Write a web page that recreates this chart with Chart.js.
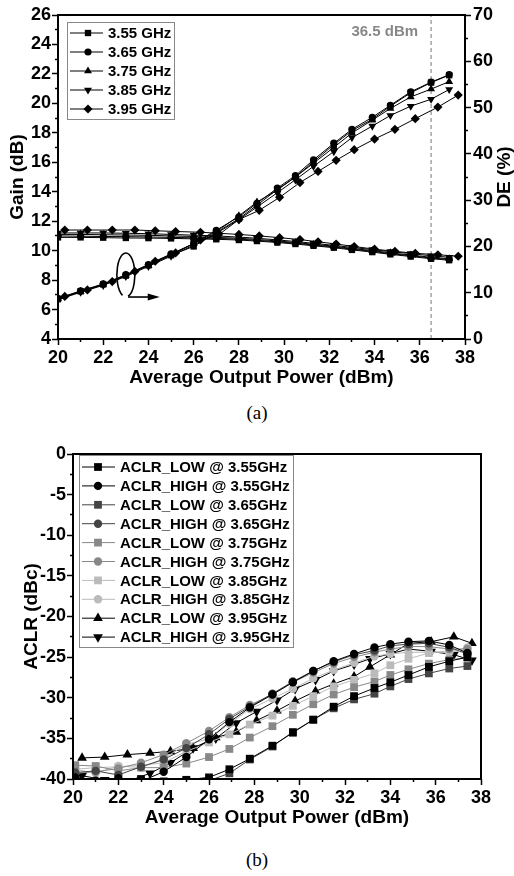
<!DOCTYPE html>
<html><head><meta charset="utf-8">
<script src="https://cdn.jsdelivr.net/npm/chart.js@4.4.0/dist/chart.umd.min.js"></script>
<style>
html,body{margin:0;padding:0;background:#fff;width:514px;height:876px;overflow:hidden;position:relative}
canvas{position:absolute;left:0}
#ca{top:0}
#cb{top:440px}
.cap{position:absolute;left:0;width:514px;text-align:center;font-family:'Liberation Serif','Times New Roman',serif;font-size:19px;line-height:20px;color:#000}
</style></head><body>
<canvas id="ca" width="514" height="395"></canvas>
<div class="cap" style="top:403px">(a)</div>
<canvas id="cb" width="514" height="395"></canvas>
<div class="cap" style="top:850px">(b)</div>
<script>
// ---------- DATA (a) ----------
const freqLabels = ['3.55 GHz','3.65 GHz','3.75 GHz','3.85 GHz','3.95 GHz'];
const powerA    = [20,21,22,23,24,25,26,27,28,28.8,29.7,30.5,31.3,32.2,33.0,33.9,34.7,35.6,36.5,37.3];
const powerA395 = [20.3,21.3,22.4,23.4,24.3,25.2,26.3,27.1,28.0,28.9,29.8,30.7,31.5,32.3,33.1,34.0,34.9,35.8,36.8,37.7];
const gain355 = [10.9,10.9,10.88,10.86,10.85,10.83,10.8,10.77,10.72,10.65,10.55,10.45,10.33,10.2,10.05,9.9,9.75,9.6,9.45,9.35];
const gain365 = [11.0,10.98,10.96,10.95,10.93,10.9,10.87,10.83,10.78,10.7,10.6,10.5,10.38,10.25,10.1,9.95,9.8,9.65,9.5,9.4];
const gain375 = [11.1,11.1,11.08,11.06,11.04,11.0,10.96,10.9,10.84,10.76,10.66,10.55,10.43,10.3,10.15,10.0,9.85,9.7,9.55,9.45];
const gain385 = [11.2,11.2,11.2,11.18,11.15,11.1,11.05,11.0,10.92,10.84,10.73,10.62,10.5,10.36,10.22,10.07,9.93,9.8,9.65,9.55];
const gain395 = [11.4,11.4,11.4,11.4,11.35,11.3,11.25,11.18,11.1,11.0,10.88,10.75,10.6,10.45,10.28,10.1,9.95,9.82,9.72,9.62];
const de355 = [8.6,10.3,11.8,13.7,15.9,18.1,20.0,23.0,26.0,28.9,32.3,35.0,38.3,42.0,45.0,47.5,50.3,53.2,55.4,57.0];
const de365 = [8.8,10.4,11.9,13.9,16.1,18.4,20.6,23.5,26.4,29.3,32.6,35.3,38.7,42.3,45.3,47.9,50.5,53.4,55.5,57.1];
const de375 = [8.7,10.3,11.8,13.8,15.9,18.2,20.6,23.2,26.6,29.6,32.2,35.0,38.0,41.4,44.5,47.3,49.8,52.3,54.0,55.6];
const de385 = [8.5,10.1,11.6,13.5,15.7,17.9,20.3,22.8,25.8,28.5,31.6,34.4,37.3,40.5,43.5,46.0,48.3,50.3,51.8,53.9];
const de395 = [9.2,10.6,12.4,14.6,16.8,18.6,21.4,22.5,25.8,27.8,30.6,33.8,36.2,38.6,40.9,43.2,45.3,47.6,50.1,52.7];
const markerPower = 36.5;
const markerLabel = '36.5 dBm';

// ---------- DATA (b) ----------
const aclrLabels = ['ACLR_LOW @ 3.55GHz','ACLR_HIGH @ 3.55GHz','ACLR_LOW @ 3.65GHz','ACLR_HIGH @ 3.65GHz',
  'ACLR_LOW @ 3.75GHz','ACLR_HIGH @ 3.75GHz','ACLR_LOW @ 3.85GHz','ACLR_HIGH @ 3.85GHz',
  'ACLR_LOW @ 3.95GHz','ACLR_HIGH @ 3.95GHz'];
const powerB    = [20.1,21.0,22.0,23.0,24.0,25.0,26.0,26.9,27.8,28.8,29.7,30.6,31.5,32.4,33.3,34.0,34.8,35.7,36.6,37.4];
const powerB395 = [20.4,21.4,22.4,23.4,24.3,25.3,26.3,27.2,28.1,29.0,29.8,30.7,31.5,32.4,33.1,34.0,34.8,35.8,36.8,37.6];
const low355  = [-40.2,-40.4,-40.3,-40.0,-40.3,-40.1,-39.8,-38.8,-37.5,-35.9,-34.3,-32.7,-31.1,-29.8,-28.8,-28.1,-27.2,-26.2,-25.5,-25.0];
const high355 = [-39.8,-40.2,-39.9,-40.3,-39.1,-37.3,-35.1,-33.0,-31.2,-29.6,-28.1,-26.7,-25.5,-24.6,-23.8,-23.4,-23.1,-23.0,-23.5,-24.5];
const low365  = [-40.4,-40.3,-40.5,-40.3,-40.4,-40.2,-40.2,-39.3,-37.6,-36.0,-34.2,-32.7,-31.3,-30.2,-29.5,-28.6,-27.7,-27.0,-26.4,-26.1];
const high365 = [-39.2,-39.0,-39.5,-38.5,-37.6,-36.2,-34.5,-32.6,-31.1,-29.5,-28.0,-26.7,-25.6,-24.7,-24.2,-23.6,-23.4,-23.3,-23.8,-24.6];
const low375  = [-38.3,-38.4,-39.0,-38.6,-38.6,-38.1,-37.3,-36.3,-34.9,-33.5,-32.1,-30.8,-29.6,-28.7,-28.0,-27.2,-26.5,-25.8,-25.3,-25.1];
const high375 = [-39.3,-39.1,-38.7,-38.0,-37.0,-35.6,-34.1,-32.4,-30.9,-29.6,-28.1,-26.9,-25.8,-25.0,-24.4,-24.0,-23.7,-23.7,-24.0,-24.0];
const low385  = [-38.8,-38.6,-38.5,-38.3,-38.0,-36.6,-35.5,-34.5,-33.3,-32.2,-31.0,-29.8,-28.6,-27.8,-27.0,-26.0,-25.2,-24.5,-24.2,-24.4];
const high385 = [-38.8,-39.3,-38.4,-38.6,-37.5,-35.7,-35.1,-33.2,-31.4,-30.1,-28.9,-27.6,-26.6,-25.7,-24.9,-24.6,-24.4,-24.4,-24.4,-23.8];
const low395  = [-37.4,-37.3,-37.0,-36.8,-36.6,-36.2,-34.9,-34.2,-32.8,-31.6,-30.4,-29.2,-28.3,-27.4,-26.2,-24.7,-23.3,-23.1,-22.5,-23.3];
const high395 = [-39.6,-40.1,-40.3,-39.3,-38.0,-36.2,-35.0,-33.1,-31.7,-30.3,-28.9,-27.8,-26.7,-25.9,-25.2,-24.6,-24.0,-24.3,-24.7,-25.4];

// ---------- helpers ----------
const FONT = "'Liberation Sans', Arial, sans-serif";
Chart.defaults.font.family = FONT;
Chart.defaults.color = '#000';
function pts(xs, ys){ return xs.map((x,i)=>({x:x, y:ys[i]})); }

function drawMarker(ctx, ds, x, y){
  const o = {pointStyle: ds.pointStyle, rotation: ds.pointRotation||0, radius: ds.pointRadius, borderWidth: ds.pointBorderWidth||0};
  ctx.fillStyle = ds.pointBackgroundColor; ctx.strokeStyle = ds.pointBorderColor;
  if (Chart.helpers && Chart.helpers.drawPoint) { Chart.helpers.drawPoint(ctx, o, x, y); return; }
  ctx.beginPath(); ctx.arc(x,y,o.radius,0,Math.PI*2); ctx.fill();
}

const framePlugin = {id:'frame', afterDraw(chart){
  const {ctx, chartArea:a} = chart; ctx.save(); ctx.strokeStyle='#000'; ctx.lineWidth=2;
  ctx.strokeRect(a.left, a.top, a.right-a.left, a.bottom-a.top); ctx.restore(); }};

function makeLegend(cfg){
  return {id:'originLegend', afterDatasetsDraw(chart){
    const ctx = chart.ctx, ca = chart.chartArea;
    const x0 = ca.left + cfg.dx, y0 = ca.top + cfg.dy;
    ctx.save();
    ctx.fillStyle = '#fff'; ctx.fillRect(x0, y0, cfg.w, cfg.h);
    ctx.strokeStyle = '#888'; ctx.lineWidth = 1; ctx.strokeRect(x0+0.5, y0+0.5, cfg.w, cfg.h);
    cfg.items.forEach((idx, i) => {
      const ds = chart.data.datasets[idx];
      const cy = y0 + cfg.first + i*cfg.step;
      ctx.strokeStyle = ds.borderColor; ctx.lineWidth = 1;
      ctx.beginPath(); ctx.moveTo(x0+cfg.lx1, cy); ctx.lineTo(x0+cfg.lx2, cy); ctx.stroke();
      drawMarker(ctx, ds, x0+cfg.mx, cy);
      ctx.fillStyle = '#000'; ctx.font = 'bold 15px ' + FONT; ctx.textBaseline = 'middle'; ctx.textAlign = 'left';
      ctx.fillText(ds.label, x0+cfg.tx, cy+1);
    });
    ctx.restore();
  }};
}

function tickGrid(isMajor, leftSide){
  return {
    drawOnChartArea:false, drawTicks:true, tickLength:6, tickColor:'#000', tickWidth:1.5,
    tickBorderDash: c => (c.tick && isMajor(c.tick.value)) ? [] : [3,100],
    tickBorderDashOffset: c => (c.tick && isMajor(c.tick.value)) ? 0 : (leftSide ? 100 : 0)
  };
}
const tickFont = {size:18, weight:'bold', family:FONT};
const titleFont = {size:19, weight:'bold', family:FONT, lineHeight:1};

// ---------- Chart (a) ----------
const styleA = [
  {ps:'rect', r:4.5, rot:0},
  {ps:'circle', r:3.6, rot:0},
  {ps:'triangle', r:4.6, rot:0},
  {ps:'triangle', r:4.6, rot:180},
  {ps:'rectRot', r:4.6, rot:0}
];
const gainSets = [gain355, gain365, gain375, gain385, gain395];
const deSets = [de355, de365, de375, de385, de395];
const xSetsA = [powerA, powerA, powerA, powerA, powerA395];
const dsA = [];
freqLabels.forEach((lab, i) => {
  const base = {borderColor:'#000', borderWidth:1, pointStyle:styleA[i].ps, pointRotation:styleA[i].rot,
    pointRadius:styleA[i].r, pointBackgroundColor:'#000', pointBorderColor:'#000', pointBorderWidth:0, tension:0};
  dsA.push(Object.assign({label:lab, data:pts(xSetsA[i], gainSets[i]), yAxisID:'yG'}, base));
});
freqLabels.forEach((lab, i) => {
  const base = {borderColor:'#000', borderWidth:1, pointStyle:styleA[i].ps, pointRotation:styleA[i].rot,
    pointRadius:styleA[i].r, pointBackgroundColor:'#000', pointBorderColor:'#000', pointBorderWidth:0, tension:0};
  dsA.push(Object.assign({label:lab + ' DE', data:pts(xSetsA[i], deSets[i]), yAxisID:'yD'}, base));
});
dsA.push({label:'marker', data:[{x:markerPower, y:4},{x:markerPower, y:26}], yAxisID:'yG',
  borderColor:'#777', borderWidth:1, borderDash:[4,3], pointRadius:0});

const annotA = {id:'annotA', afterDatasetsDraw(chart){
  const xs = chart.scales.x, yg = chart.scales.yG, ctx = chart.ctx, ca = chart.chartArea;
  ctx.save();
  ctx.fillStyle = '#888'; ctx.font = 'bold 15px ' + FONT; ctx.textAlign = 'center'; ctx.textBaseline = 'middle';
  ctx.fillText(markerLabel, xs.getPixelForValue(34.45), yg.getPixelForValue(24.85));
  const cx = xs.getPixelForValue(23.0), cy = yg.getPixelForValue(8.35);
  ctx.strokeStyle = '#000'; ctx.lineWidth = 1.6;
  ctx.beginPath(); ctx.ellipse(cx, cy, 9, 22, 0, 0.62*Math.PI, 2.42*Math.PI); ctx.stroke();
  const ax1 = xs.getPixelForValue(23.1), ax2 = xs.getPixelForValue(24.5), ay = yg.getPixelForValue(6.85);
  ctx.beginPath(); ctx.moveTo(ax1, ay); ctx.lineTo(ax2-10, ay); ctx.stroke();
  ctx.fillStyle = '#000'; ctx.beginPath(); ctx.moveTo(ax2, ay); ctx.lineTo(ax2-12, ay-3.5); ctx.lineTo(ax2-12, ay+3.5); ctx.closePath(); ctx.fill();
  // right axis title (reads bottom-to-top)
  ctx.fillStyle = '#000'; ctx.font = 'bold 19px ' + FONT;
  ctx.translate(505, (ca.top+ca.bottom)/2); ctx.rotate(-Math.PI/2);
  ctx.fillText('DE (%)', 0, 0);
  ctx.restore();
}};

new Chart(document.getElementById('ca'), {
  type:'line',
  data:{datasets:dsA},
  options:{
    responsive:false, animation:false, devicePixelRatio:1,
    layout:{padding:{top:15, left:0, right:0, bottom:0}},
    plugins:{legend:{display:false}, tooltip:{enabled:false}},
    scales:{
      x:{type:'linear', position:'bottom', min:20, max:38,
        afterFit(s){ s.height = 56; },
        border:{display:false},
        grid:tickGrid(v => v % 2 === 0, false),
        ticks:{stepSize:1, autoSkip:false, maxRotation:0, font:tickFont, color:'#000', padding:2,
          callback:v => (v % 2 === 0 ? String(v) : '')},
        title:{display:true, text:'Average Output Power (dBm)', font:titleFont, color:'#000', padding:{top:0,bottom:8}}
      },
      yG:{type:'linear', position:'left', min:4, max:26,
        afterFit(s){ s.width = 58; },
        border:{display:false},
        grid:tickGrid(v => v % 2 === 0, true),
        ticks:{stepSize:1, autoSkip:false, font:tickFont, color:'#000', padding:1,
          callback:v => (v % 2 === 0 ? String(v) : '')},
        title:{display:true, text:'Gain (dB)', font:titleFont, color:'#000', padding:{top:8,bottom:0}}
      },
      yD:{type:'linear', position:'right', min:0, max:70,
        afterFit(s){ s.width = 49; },
        border:{display:false},
        grid:tickGrid(v => v % 10 === 0, false),
        ticks:{stepSize:5, autoSkip:false, font:tickFont, color:'#000', padding:2,
          callback:v => (v % 10 === 0 ? String(v) : '')},
        title:{display:false}
      }
    }
  },
  plugins:[framePlugin, annotA, makeLegend({dx:9, dy:7, w:107, h:97, first:11, step:19, lx1:3, lx2:36, mx:21, tx:41, items:[0,1,2,3,4]})]
});

// ---------- Chart (b) ----------
const aclrSets = [low355, high355, low365, high365, low375, high375, low385, high385, low395, high395];
const aclrColors = ['#000','#000','#444','#444','#888','#888','#bbb','#bbb','#000','#000'];
const aclrStyles = [
  {ps:'rect', r:5.5, rot:0},{ps:'circle', r:4.2, rot:0},
  {ps:'rect', r:5.5, rot:0},{ps:'circle', r:4.2, rot:0},
  {ps:'rect', r:5.5, rot:0},{ps:'circle', r:4.2, rot:0},
  {ps:'rect', r:5.5, rot:0},{ps:'circle', r:4.2, rot:0},
  {ps:'triangle', r:5.6, rot:0},{ps:'triangle', r:5.6, rot:180}
];
const dsB = aclrLabels.map((lab, i) => ({
  label:lab, data:pts(i >= 8 ? powerB395 : powerB, aclrSets[i]),
  borderColor:aclrColors[i], borderWidth:1, tension:0,
  pointStyle:aclrStyles[i].ps, pointRotation:aclrStyles[i].rot, pointRadius:aclrStyles[i].r,
  pointBackgroundColor:aclrColors[i], pointBorderColor:aclrColors[i], pointBorderWidth:0
}));

new Chart(document.getElementById('cb'), {
  type:'line',
  data:{datasets:dsB},
  options:{
    responsive:false, animation:false, devicePixelRatio:1,
    layout:{padding:{top:14, left:0, right:33, bottom:0}},
    plugins:{legend:{display:false}, tooltip:{enabled:false}},
    scales:{
      x:{type:'linear', position:'bottom', min:20, max:38,
        afterFit(s){ s.height = 56; },
        border:{display:false},
        grid:tickGrid(v => v % 2 === 0, false),
        ticks:{stepSize:1, autoSkip:false, maxRotation:0, font:tickFont, color:'#000', padding:2,
          callback:v => (v % 2 === 0 ? String(v) : '')},
        title:{display:true, text:'Average Output Power (dBm)', font:titleFont, color:'#000', padding:{top:0,bottom:8}}
      },
      y:{type:'linear', position:'left', min:-40, max:0,
        afterFit(s){ s.width = 73; },
        border:{display:false},
        grid:tickGrid(v => v % 5 === 0, true),
        ticks:{stepSize:2.5, autoSkip:false, font:tickFont, color:'#000', padding:1,
          callback:v => (v % 5 === 0 ? String(v) : '')},
        title:{display:true, text:'ACLR (dBc)', font:titleFont, color:'#000', padding:{top:22,bottom:0}}
      }
    }
  },
  plugins:[framePlugin, makeLegend({dx:6, dy:1, w:214, h:192, first:12, step:18.9, lx1:3, lx2:36, mx:19, tx:41, items:[0,1,2,3,4,5,6,7,8,9]})]
});
</script>
</body></html>
